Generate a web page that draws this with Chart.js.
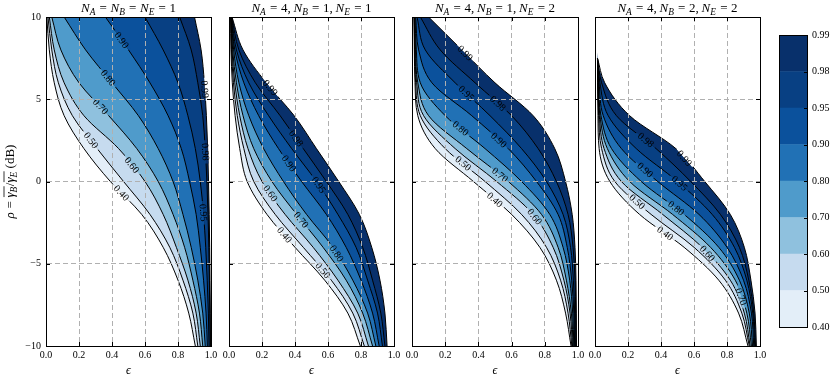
<!DOCTYPE html>
<html><head><meta charset="utf-8">
<script src="https://cdn.jsdelivr.net/npm/chart.js@4.4.1/dist/chart.umd.min.js"></script>
<style>
html,body{margin:0;padding:0;background:#fff;}
#wrap{position:relative;width:830px;height:383px;overflow:hidden;background:#fff;}
#wrap canvas{position:absolute;top:0;}
</style></head><body><div id="wrap"></div>
<script>
// ---------------- data ----------------
const LEVELS = [0.40, 0.50, 0.60, 0.70, 0.80, 0.90, 0.95, 0.98, 0.99];
const BAND_COLORS = ['#e3eef8', '#c6dbef', '#8fc1de', '#4f9bcb', '#2171b5', '#0b519c', '#084083', '#08306b'];
const X_TICKS = [0, 0.2, 0.4, 0.6, 0.8, 1.0];
const Y_TICKS = [-10, -5, 0, 5, 10];
const TITLES = ['N_A=N_B=N_E=1', 'N_A=4, N_B=1, N_E=1', 'N_A=4, N_B=1, N_E=2', 'N_A=4, N_B=2, N_E=2'];
const X_LABEL = '\u03F5';
const Y_LABEL = '\u03C1=[\u03B3_B]/[\u03B3_E] (dB)';

// rho (dB) sample points along each contour
const RHO = [10, 8, 6, 4, 2, 0, -2, -4, -6, -8, -10];
const RHO_P4 = [7.5, 6, 4, 2, 0, -2, -4, -6, -8, -10];

// epsilon of each contour level (rows follow LEVELS) at the rho samples
const P1_EPS = [
  [0.005, 0.02, 0.05, 0.11, 0.23, 0.39, 0.58, 0.71, 0.80, 0.865, 0.905],
  [0.012, 0.035, 0.075, 0.16, 0.31, 0.47, 0.63, 0.75, 0.83, 0.89, 0.92],
  [0.02, 0.05, 0.11, 0.23, 0.44, 0.60, 0.71, 0.79, 0.86, 0.91, 0.935],
  [0.035, 0.09, 0.20, 0.38, 0.55, 0.68, 0.77, 0.84, 0.89, 0.93, 0.95],
  [0.11, 0.24, 0.40, 0.56, 0.68, 0.77, 0.83, 0.88, 0.92, 0.95, 0.965],
  [0.36, 0.50, 0.63, 0.74, 0.82, 0.87, 0.91, 0.935, 0.955, 0.97, 0.978],
  [0.60, 0.71, 0.80, 0.86, 0.905, 0.935, 0.955, 0.968, 0.977, 0.984, 0.988],
  [0.81, 0.88, 0.92, 0.95, 0.965, 0.975, 0.982, 0.987, 0.99, 0.993, 0.995],
  [0.90, 0.94, 0.96, 0.972, 0.98, 0.985, 0.989, 0.992, 0.994, 0.996, 0.997]
];
const P2_EPS = [
  [0.010, 0.012, 0.02, 0.037, 0.065, 0.11, 0.23, 0.40, 0.58, 0.72, 0.796],
  [0.011, 0.015, 0.027, 0.05, 0.09, 0.15, 0.28, 0.45, 0.62, 0.75, 0.82],
  [0.012, 0.018, 0.035, 0.065, 0.115, 0.20, 0.34, 0.51, 0.66, 0.78, 0.845],
  [0.013, 0.022, 0.045, 0.085, 0.15, 0.26, 0.41, 0.57, 0.71, 0.81, 0.87],
  [0.014, 0.028, 0.06, 0.12, 0.21, 0.33, 0.47, 0.63, 0.75, 0.84, 0.89],
  [0.015, 0.035, 0.09, 0.18, 0.30, 0.44, 0.59, 0.71, 0.80, 0.87, 0.91],
  [0.016, 0.045, 0.12, 0.24, 0.38, 0.53, 0.66, 0.77, 0.84, 0.90, 0.93],
  [0.017, 0.06, 0.16, 0.31, 0.45, 0.59, 0.72, 0.81, 0.87, 0.92, 0.945],
  [0.018, 0.085, 0.225, 0.395, 0.53, 0.665, 0.79, 0.865, 0.915, 0.945, 0.958]
];
const P3_EPS = [
  [0.012, 0.014, 0.018, 0.035, 0.14, 0.37, 0.60, 0.77, 0.87, 0.925, 0.958],
  [0.013, 0.016, 0.022, 0.05, 0.20, 0.44, 0.66, 0.81, 0.895, 0.94, 0.963],
  [0.014, 0.018, 0.028, 0.07, 0.26, 0.51, 0.73, 0.85, 0.915, 0.952, 0.967],
  [0.016, 0.021, 0.035, 0.10, 0.33, 0.58, 0.78, 0.88, 0.93, 0.96, 0.971],
  [0.018, 0.026, 0.05, 0.20, 0.44, 0.66, 0.83, 0.91, 0.95, 0.968, 0.975],
  [0.022, 0.04, 0.12, 0.36, 0.58, 0.75, 0.88, 0.935, 0.962, 0.975, 0.98],
  [0.03, 0.08, 0.26, 0.47, 0.66, 0.81, 0.91, 0.955, 0.972, 0.98, 0.984],
  [0.05, 0.17, 0.38, 0.60, 0.76, 0.87, 0.94, 0.97, 0.982, 0.986, 0.988],
  [0.10, 0.30, 0.50, 0.73, 0.86, 0.925, 0.965, 0.982, 0.988, 0.99, 0.991]
];
const P4_EPS = [
  [0.015, 0.016, 0.018, 0.025, 0.09, 0.27, 0.54, 0.75, 0.87, 0.927],
  [0.015, 0.017, 0.022, 0.04, 0.12, 0.34, 0.60, 0.79, 0.89, 0.935],
  [0.015, 0.018, 0.026, 0.055, 0.16, 0.41, 0.65, 0.82, 0.905, 0.94],
  [0.015, 0.019, 0.03, 0.075, 0.21, 0.47, 0.70, 0.85, 0.92, 0.948],
  [0.015, 0.021, 0.036, 0.10, 0.28, 0.54, 0.75, 0.875, 0.935, 0.955],
  [0.015, 0.025, 0.05, 0.16, 0.38, 0.63, 0.80, 0.90, 0.948, 0.962],
  [0.015, 0.03, 0.08, 0.25, 0.50, 0.71, 0.845, 0.92, 0.956, 0.968],
  [0.015, 0.04, 0.13, 0.37, 0.58, 0.76, 0.875, 0.932, 0.962, 0.973],
  [0.015, 0.059, 0.21, 0.49, 0.665, 0.82, 0.905, 0.945, 0.97, 0.978]
];
// rho at which each contour carries its inline label
const P1_LABEL_RHO = [-0.7, 2.5, 1.0, 4.55, 6.3, 8.6, -1.9, 1.8, 5.6];
const P2_LABEL_RHO = [-3.25, -5.4, -0.72, -2.34, -4.37, 1.1, -0.21, 2.62, 5.7];
const P3_LABEL_RHO = [-1.12, 1.1, -2.14, 0.4, 3.23, 2.52, 5.36, 4.75, 7.8];
const P4_LABEL_RHO = [-3.15, -1.23, -4.37, -7.0, -1.63, 0.7, -0.11, 2.52, 1.41];

// ---------------- layout / style ----------------
const W = 830, H = 383;
const AREA_TOP = 17, AREA_BOTTOM = 346, LEFT_GUTTER = 46, RIGHT_GUTTER = 14;
const PANEL_LEFT = [46, 229, 412, 595];
const PANEL_W = [165, 165, 166, 165];
const X_MIN = 0, X_MAX = 1, Y_MIN = -10, Y_MAX = 10;
const SERIF = '"Liberation Serif", "DejaVu Serif", serif';
const GRID_COLOR = '#b0b0b0';
const LABEL_FONT = 10;
const PANELS = [
  {rho: RHO, eps: P1_EPS, lab: P1_LABEL_RHO},
  {rho: RHO, eps: P2_EPS, lab: P2_LABEL_RHO},
  {rho: RHO, eps: P3_EPS, lab: P3_LABEL_RHO},
  {rho: RHO_P4, eps: P4_EPS, lab: P4_LABEL_RHO}
];
const CONTOURS = PANELS.map(pn => pn.eps.map(row => row.map((e, k) => ({x: e, y: pn.rho[k]}))));
const wrap = document.getElementById('wrap');

// ---------- math-ish text helper ----------
function parseMath(str) {
  const segs = [];
  let upright = false, ol = 0, olId = 0;
  for (let i = 0; i < str.length; i++) {
    const c = str[i];
    if (c === ' ') { segs.push({t: ' ', space: true, ol}); continue; }
    if (c === '[') { olId++; ol = olId; continue; }
    if (c === ']') { ol = 0; continue; }
    if (c === '(') upright = true;
    if (c === '_') { segs.push({t: str[i + 1], it: !upright, sub: true, ol}); i++; continue; }
    const isLetter = /[A-Za-z\u0370-\u03FF]/.test(c);
    segs.push({t: c, it: isLetter && !upright, ol, rel: c === '='});
    if (c === ')') upright = false;
  }
  return segs;
}
function drawMath(ctx, str, x, y, size, rotate) {
  const segs = parseMath(str);
  const subSize = size * 0.72;
  const fontOf = s => (s.it ? 'italic ' : '') + (s.sub ? subSize : size) + 'px ' + SERIF;
  let w = 0;
  segs.forEach(s => {
    if (s.space) s.w = size * 0.22;
    else {
      ctx.font = fontOf(s);
      s.w = ctx.measureText(s.t).width + (s.rel ? size * 0.56 : 0) + (s.sub ? size * 0.04 : 0);
    }
    w += s.w;
  });
  ctx.save();
  ctx.translate(x, y);
  if (rotate) ctx.rotate(rotate);
  ctx.textBaseline = 'alphabetic';
  ctx.textAlign = 'left';
  ctx.fillStyle = '#000';
  let cx = -w / 2;
  const ols = {};
  segs.forEach(s => {
    if (!s.space) {
      ctx.font = fontOf(s);
      ctx.fillText(s.t, cx + (s.rel ? size * 0.28 : 0), s.sub ? size * 0.22 : 0);
    }
    if (s.ol) {
      const r = ols[s.ol] || (ols[s.ol] = {a: cx, b: cx});
      r.b = cx + s.w;
    }
    cx += s.w;
  });
  Object.values(ols).forEach(r => ctx.fillRect(r.a + 0.5, -size * 0.8, r.b - r.a - 0.5, 0.8));
  ctx.restore();
}

function interpEps(pts, r) {
  for (let k = 0; k < pts.length - 1; k++) {
    const a = pts[k], b = pts[k + 1];
    if (r <= a.y && r >= b.y) {
      const t = (a.y - r) / (a.y - b.y);
      return a.x + t * (b.x - a.x);
    }
  }
  return null;
}

const panelDecor = {
  id: 'panelDecor',
  afterDatasetsDraw(chart, args, opts) {
    const p = opts.panel;
    if (p === undefined) return;
    const ctx = chart.ctx, xs = chart.scales.x, ys = chart.scales.y, area = chart.chartArea;
    const contours = CONTOURS[p];
    const lab = PANELS[p].lab;
    ctx.save();
    ctx.beginPath();
    ctx.rect(area.left, area.top, area.right - area.left, area.bottom - area.top);
    ctx.clip();
    contours.forEach((pts, i) => {
      const r = lab[i];
      const e = interpEps(pts, r);
      if (e === null) return;
      const top = pts[0].y, bot = pts[pts.length - 1].y;
      const r1 = Math.min(top, r + 0.5), r2 = Math.max(bot, r - 0.5);
      const e1 = interpEps(pts, r1), e2 = interpEps(pts, r2);
      const px = xs.getPixelForValue(e), py = ys.getPixelForValue(r);
      const x1 = xs.getPixelForValue(e1), y1 = ys.getPixelForValue(r1);
      const x2 = xs.getPixelForValue(e2), y2 = ys.getPixelForValue(r2);
      let th = Math.atan2(y2 - y1, x2 - x1);
      if (th > Math.PI / 2) th -= Math.PI;
      if (th < -Math.PI / 2) th += Math.PI;
      const hi = i < BAND_COLORS.length ? BAND_COLORS[i] : '#ffffff';
      const lo = i > 0 ? BAND_COLORS[i - 1] : '#ffffff';
      const nx = Math.sin(th), ny = -Math.cos(th);
      const upIsHigh = (nx - ny) > 0;
      const txt = LEVELS[i].toFixed(2);
      ctx.save();
      ctx.translate(px, py);
      ctx.rotate(th);
      ctx.font = LABEL_FONT + 'px ' + SERIF;
      const tw = ctx.measureText(txt).width;
      const bw = tw + 6, bh = 5;
      ctx.fillStyle = upIsHigh ? hi : lo;
      ctx.fillRect(-bw / 2, -bh / 2, bw, bh / 2);
      ctx.fillStyle = upIsHigh ? lo : hi;
      ctx.fillRect(-bw / 2, 0, bw, bh / 2);
      ctx.fillStyle = '#000';
      ctx.textAlign = 'center';
      ctx.textBaseline = 'middle';
      ctx.fillText(txt, 0, 0.5);
      ctx.restore();
    });
    ctx.restore();
  },
  afterDraw(chart, args, opts) {
    const p = opts.panel;
    if (p === undefined) return;
    const ctx = chart.ctx, xs = chart.scales.x, ys = chart.scales.y, area = chart.chartArea;
    ctx.save();
    ctx.strokeStyle = '#000';
    ctx.lineWidth = 1;
    ctx.beginPath();
    X_TICKS.forEach(v => {
      if (v <= X_MIN || v >= X_MAX) return;
      const x = Math.round(xs.getPixelForValue(v)) + 0.5;
      ctx.moveTo(x, area.bottom); ctx.lineTo(x, area.bottom - 4);
      ctx.moveTo(x, area.top); ctx.lineTo(x, area.top + 4);
    });
    Y_TICKS.forEach(v => {
      if (v <= Y_MIN || v >= Y_MAX) return;
      const y = Math.round(ys.getPixelForValue(v)) + 0.5;
      ctx.moveTo(area.left, y); ctx.lineTo(area.left + 4, y);
      ctx.moveTo(area.right, y); ctx.lineTo(area.right - 4, y);
    });
    ctx.stroke();
    ctx.restore();
    const cxm = (area.left + area.right) / 2;
    drawMath(ctx, TITLES[p], cxm, 12, 13);
    drawMath(ctx, X_LABEL, cxm, 374, 12);
    if (p === 0) drawMath(ctx, Y_LABEL, 14, (area.top + area.bottom) / 2, 13, -Math.PI / 2);
  }
};

function makePanel(p) {
  const cw = LEFT_GUTTER + PANEL_W[p] + RIGHT_GUTTER;
  const cv = document.createElement('canvas');
  cv.width = cw; cv.height = H;
  cv.style.left = (PANEL_LEFT[p] - LEFT_GUTTER) + 'px';
  cv.style.width = cw + 'px'; cv.style.height = H + 'px';
  wrap.appendChild(cv);
  const contours = CONTOURS[p];
  const top = contours.length - 1;
  // fills: where a contour starts below the top of the axes, lead it in from above the
  // axes so the stacked fills have no horizontal seam at the start point
  const fillPts = contours.map((pts, i) => {
    const first = pts[0];
    if (first.y >= Y_MAX) return pts;
    const lead = {x: i === top ? first.x - 0.012 : first.x, y: Y_MAX + 1};
    return [lead].concat(pts);
  });
  const datasets = [];
  fillPts.forEach((pts, i) => datasets.push({
    data: pts, fill: {value: X_MAX},
    backgroundColor: i < BAND_COLORS.length ? BAND_COLORS[i] : '#ffffff',
    borderColor: 'rgba(0,0,0,0)', borderWidth: 0, pointRadius: 0,
    order: 50 - i, cubicInterpolationMode: 'monotone'
  }));
  contours.forEach(pts => datasets.push({
    data: pts, fill: false, borderColor: '#000', borderWidth: 1, pointRadius: 0,
    order: 1, cubicInterpolationMode: 'monotone'
  }));
  const edgeX = c => c.tick && (c.tick.value <= X_MIN + 1e-9 || c.tick.value >= X_MAX - 1e-9);
  const edgeY = c => c.tick && (c.tick.value <= Y_MIN || c.tick.value >= Y_MAX);
  new Chart(cv, {
    type: 'line',
    data: {datasets},
    options: {
      indexAxis: 'y',
      responsive: false, animation: false, devicePixelRatio: 1,
      layout: {padding: 0},
      elements: {line: {capBezierPoints: false}, point: {radius: 0}},
      plugins: {legend: {display: false}, tooltip: {enabled: false}, panelDecor: {panel: p}},
      scales: {
        x: {
          type: 'linear', position: 'bottom', min: X_MIN, max: X_MAX,
          afterBuildTicks: s => { s.ticks = X_TICKS.map(v => ({value: v})); },
          ticks: {callback: v => Number(v).toFixed(1), font: {family: SERIF, size: 10}, color: '#000', padding: 3, maxRotation: 0, autoSkip: false},
          grid: {drawTicks: false, z: 1, lineWidth: 1, color: c => edgeX(c) ? 'rgba(0,0,0,0)' : GRID_COLOR},
          border: {display: true, color: '#000', width: 1, z: 2, dash: [5, 3]},
          afterFit: s => { s.height = H - AREA_BOTTOM; }
        },
        x2: {
          type: 'linear', position: 'top', min: X_MIN, max: X_MAX,
          ticks: {display: false}, grid: {display: false, drawTicks: false},
          border: {display: true, color: '#000', width: 1, z: 2},
          afterFit: s => { s.height = AREA_TOP; }
        },
        y: {
          type: 'linear', position: 'left', min: Y_MIN, max: Y_MAX,
          afterBuildTicks: s => { s.ticks = Y_TICKS.map(v => ({value: v})); },
          ticks: {display: p === 0, callback: v => v < 0 ? '\u2212' + Math.abs(v) : String(v), font: {family: SERIF, size: 10}, color: '#000', padding: 5, autoSkip: false},
          grid: {drawTicks: false, z: 1, lineWidth: 1, color: c => edgeY(c) ? 'rgba(0,0,0,0)' : GRID_COLOR},
          border: {display: true, color: '#000', width: 1, z: 2, dash: [5, 3]},
          afterFit: s => { s.width = LEFT_GUTTER; }
        },
        y2: {
          type: 'linear', position: 'right', min: Y_MIN, max: Y_MAX,
          ticks: {display: false}, grid: {display: false, drawTicks: false},
          border: {display: true, color: '#000', width: 1, z: 2},
          afterFit: s => { s.width = RIGHT_GUTTER; }
        }
      }
    },
    plugins: [panelDecor]
  });
}
[0, 1, 2, 3].forEach(makePanel);

// ---------------- colorbar ----------------
const CB_LEFT = 779, CB_W = 51, CB_TOP = 35, CB_BOTTOM = 327, CB_AXIS_W = 22;
const cbDecor = {
  id: 'cbDecor',
  afterDraw(chart) {
    const ctx = chart.ctx, a = chart.chartArea, ys = chart.scales.y;
    ctx.save();
    ctx.strokeStyle = '#000';
    ctx.lineWidth = 1;
    ctx.strokeRect(Math.round(a.left) + 0.5, Math.round(a.top) + 0.5, Math.round(a.right - a.left) - 1, Math.round(a.bottom - a.top));
    ctx.beginPath();
    LEVELS.forEach((lv, k) => {
      if (k === 0 || k === LEVELS.length - 1) return;
      const y = Math.round(ys.getPixelForValue(k)) + 0.5;
      ctx.moveTo(a.right, y); ctx.lineTo(a.right - 4, y);
    });
    ctx.stroke();
    ctx.restore();
  }
};
(function makeColorbar() {
  const cv = document.createElement('canvas');
  cv.width = CB_W; cv.height = H;
  cv.style.left = CB_LEFT + 'px'; cv.style.width = CB_W + 'px'; cv.style.height = H + 'px';
  wrap.appendChild(cv);
  new Chart(cv, {
    type: 'bar',
    data: {
      labels: [''],
      datasets: BAND_COLORS.map(c => ({data: [1], backgroundColor: c, borderWidth: 0, barPercentage: 1, categoryPercentage: 1}))
    },
    options: {
      responsive: false, animation: false, devicePixelRatio: 1,
      layout: {padding: {top: CB_TOP, bottom: H - CB_BOTTOM, left: 0, right: 0}},
      plugins: {legend: {display: false}, tooltip: {enabled: false}},
      scales: {
        x: {display: false, stacked: true},
        y: {
          stacked: true, position: 'right', min: 0, max: LEVELS.length - 1,
          afterBuildTicks: s => { s.ticks = LEVELS.map((v, k) => ({value: k})); },
          ticks: {callback: v => LEVELS[v].toFixed(2), font: {family: SERIF, size: 10}, color: '#000', padding: 4, autoSkip: false},
          grid: {display: false, drawTicks: false},
          border: {display: false},
          afterFit: s => { s.width = CB_AXIS_W; }
        }
      }
    },
    plugins: [cbDecor]
  });
})();
</script>
</body></html>
